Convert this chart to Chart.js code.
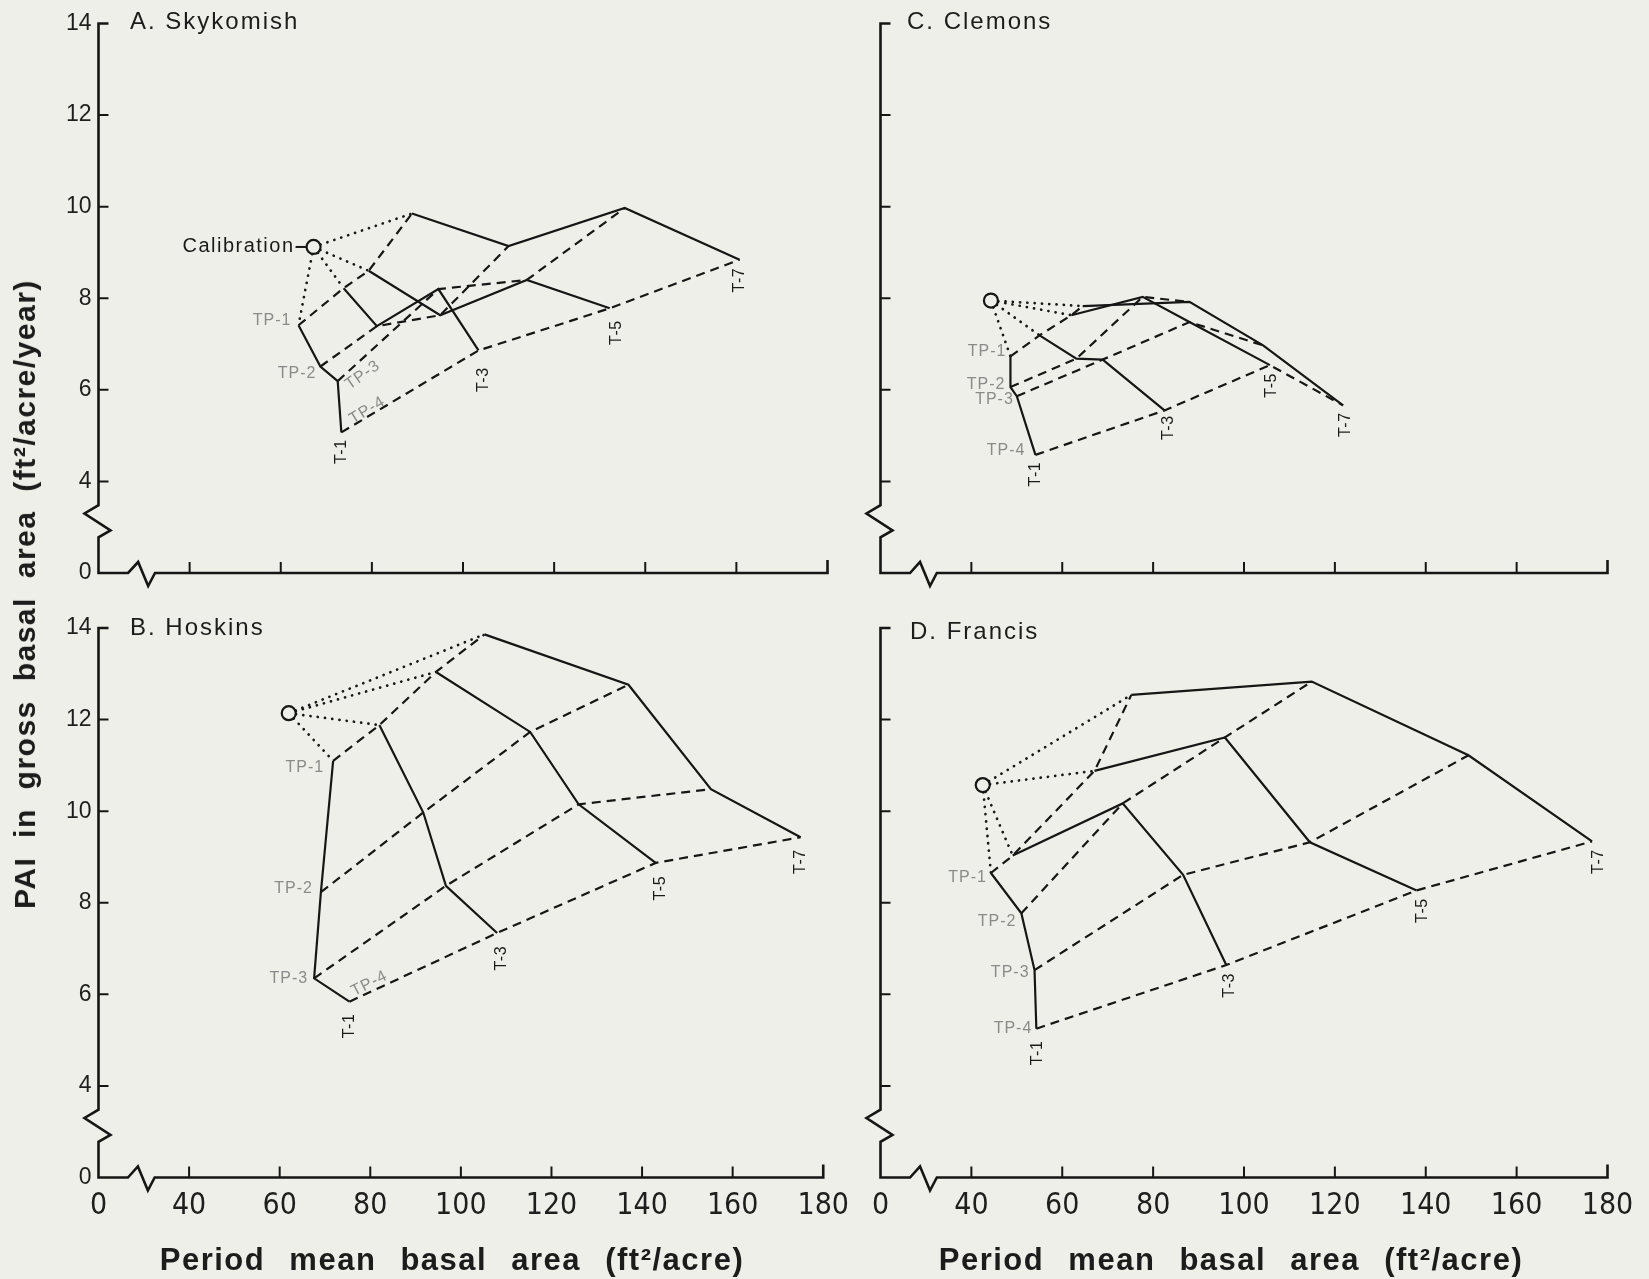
<!DOCTYPE html>
<html>
<head>
<meta charset="utf-8">
<title>PAI in gross basal area vs period mean basal area</title>
<script src="https://cdn.jsdelivr.net/npm/chart.js@4.4.1/dist/chart.umd.min.js"></script>
<style>
  html, body { margin: 0; padding: 0; background: #efefe9; }
  #page { position: relative; width: 1649px; height: 1279px; overflow: hidden; background: #efefe9; }
  #page canvas { position: absolute; }
  .txt { position: absolute; white-space: nowrap; color: #1c1c1c; font-family: "Liberation Sans", Arial, Helvetica, sans-serif; line-height: 1; }
  .ptitle { font-size: 24px; letter-spacing: 2px; }
  .axtitle { font-size: 31px; font-weight: bold; letter-spacing: 1.5px; word-spacing: 14px; }
</style>
</head>
<body>
<div id="page">
  <canvas id="panelA"></canvas>
  <canvas id="panelC"></canvas>
  <canvas id="panelB"></canvas>
  <canvas id="panelD"></canvas>

  <div class="txt ptitle" style="left:130px; top:9px;">A. Skykomish</div>
  <div class="txt ptitle" style="left:907px; top:9px;">C. Clemons</div>
  <div class="txt ptitle" style="left:130px; top:615px;">B. Hoskins</div>
  <div class="txt ptitle" style="left:910px; top:619px;">D. Francis</div>

  <div class="txt axtitle" style="left:452px; top:1244px; transform:translateX(-50%);">Period mean basal area (ft²/acre)</div>
  <div class="txt axtitle" style="left:1231px; top:1244px; transform:translateX(-50%);">Period mean basal area (ft²/acre)</div>
  <div class="txt axtitle" style="left:25px; top:594px; font-size:30px; letter-spacing:1.5px; word-spacing:9px; transform:translate(-50%,-50%) rotate(-90deg);">PAI in gross basal area (ft²/acre/year)</div>
</div>

<script>
// Treatments (columns) and treatment periods (rows)
const treatments = ['T-1', 'T-3', 'T-5', 'T-7'];
const periods = ['TP-1', 'TP-2', 'TP-3', 'TP-4'];

// Axis ticks; the first tick of each axis stands for the broken origin (0)
const xTickValues = [20, 40, 60, 80, 100, 120, 140, 160, 180];
const yTickValues = [2, 4, 6, 8, 10, 12, 14];

// A. Skykomish — period mean basal area (ft2/acre), rows TP-1..TP-4, cols T-1..T-7
const skykomishBasal = [
  [63.9, 73.8, 79.3, 88.8],
  [68.7, 81.1, 95.0, 110.0],
  [72.5, 94.6, 114.0, 135.5],
  [73.3, 103.4, 132.2, 160.7]
];
// A. Skykomish — PAI in gross basal area (ft2/acre/year)
const skykomishPai = [
  [7.41, 8.22, 8.60, 9.85],
  [6.51, 7.39, 7.63, 9.14],
  [6.19, 8.20, 8.40, 9.97],
  [5.07, 6.86, 7.78, 8.84]
];
const skykomishCalibration = [67.2, 9.12];

// B. Hoskins
const hoskinsBasal = [
  [71.8, 82.0, 94.5, 105.2],
  [69.1, 91.7, 115.3, 137.0],
  [67.6, 96.7, 126.0, 155.2],
  [75.4, 108.0, 143.0, 175.0]
];
const hoskinsPai = [
  [11.10, 11.88, 13.04, 13.86],
  [8.23, 9.97, 11.73, 12.76],
  [6.35, 8.37, 10.15, 10.48],
  [5.84, 7.34, 8.87, 9.43]
];
const hoskinsCalibration = [62.0, 12.14];

// C. Clemons
const clemonsBasal = [
  [48.6, 55.0, 62.0, 64.5],
  [48.6, 63.1, 77.7, 88.0],
  [50.0, 68.9, 88.0, 104.2],
  [54.1, 82.5, 105.7, 121.8]
];
const clemonsPai = [
  [6.73, 7.19, 7.63, 7.83],
  [6.06, 6.68, 8.03, 7.92],
  [5.86, 6.66, 7.48, 6.97],
  [4.58, 5.55, 6.54, 5.66]
];
const clemonsCalibration = [44.3, 7.95];

// D. Francis
const francisBasal = [
  [44.3, 49.1, 67.1, 75.2],
  [51.0, 73.3, 95.8, 114.9],
  [53.9, 86.6, 114.5, 149.4],
  [54.3, 96.1, 138.0, 176.6]
];
const francisPai = [
  [8.65, 9.03, 10.88, 12.54],
  [7.77, 10.17, 11.61, 12.83],
  [6.53, 8.61, 9.32, 11.22],
  [5.25, 6.64, 8.27, 9.34]
];
const francisCalibration = [42.5, 10.57];

// ---------------------------------------------------------------------------
const INK = '#161616';
const PAPER = '#efefe9';
const SANS = '"Liberation Sans", Arial, Helvetica, sans-serif';
const NARROW = '"Liberation Sans Narrow", "DejaVu Sans Condensed", "Liberation Sans", Arial, sans-serif';

// Broken axes: y axis with a zigzag between 0 and 4, x axis with a zigzag between 0 and 40,
// tick marks pointing into the plot.
const brokenAxes = {
  id: 'brokenAxes',
  afterDraw(chart) {
    const { ctx, scales: { x, y } } = chart;
    const x0 = x.getPixelForValue(20);
    const y0 = y.getPixelForValue(2);
    const yTop = y.getPixelForValue(14);
    const xEnd = x.getPixelForValue(180);
    ctx.save();
    ctx.strokeStyle = INK;
    ctx.lineWidth = 2.6;
    ctx.lineJoin = 'miter';
    ctx.lineCap = 'butt';
    ctx.beginPath();
    ctx.moveTo(x0 + 10, yTop);
    ctx.lineTo(x0, yTop);
    ctx.lineTo(x0, y.getPixelForValue(3.48));
    ctx.lineTo(x0 - 14, y.getPixelForValue(3.30));
    ctx.lineTo(x0 + 12, y.getPixelForValue(2.93));
    ctx.lineTo(x0, y.getPixelForValue(2.78));
    ctx.lineTo(x0, y0);
    ctx.lineTo(x.getPixelForValue(26.5), y0);
    ctx.lineTo(x.getPixelForValue(28.7), y0 - 11);
    ctx.lineTo(x.getPixelForValue(30.9), y0 + 13);
    ctx.lineTo(x.getPixelForValue(32.4), y0);
    ctx.lineTo(xEnd, y0);
    ctx.lineTo(xEnd, y0 - 13);
    ctx.stroke();
    ctx.lineWidth = 2;
    ctx.beginPath();
    yTickValues.slice(1, -1).forEach(v => {
      const p = y.getPixelForValue(v);
      ctx.moveTo(x0, p); ctx.lineTo(x0 + 10, p);
    });
    xTickValues.slice(1, -1).forEach(v => {
      const p = x.getPixelForValue(v);
      ctx.moveTo(p, y0); ctx.lineTo(p, y0 - 11);
    });
    ctx.stroke();
    ctx.restore();
  }
};

// Period labels (TP-n) beside the T-1 line, treatment labels (T-n) under the last period,
// and the calibration caption.
function labelPlugin(cfg, basal, pai, calib) {
  return {
    id: 'treatmentLabels',
    afterDatasetsDraw(chart) {
      const { ctx, scales: { x, y } } = chart;
      const px = (i, j) => x.getPixelForValue(basal[i][j]);
      const py = (i, j) => y.getPixelForValue(pai[i][j]);
      ctx.save();
      ctx.textBaseline = 'middle';
      periods.forEach((name, i) => {
        const o = cfg.periodOffsets[i];
        ctx.save();
        ctx.translate(px(i, 0) + o[0], py(i, 0) + o[1]);
        ctx.font = '16px ' + SANS;
        ctx.letterSpacing = '1px';
        ctx.fillStyle = '#8a8a8a';
        if (o[2]) {
          ctx.rotate(o[2] * Math.PI / 180);
          ctx.textAlign = 'center';
        } else {
          ctx.textAlign = 'right';
        }
        ctx.fillText(name, 0, 0);
        ctx.restore();
      });
      treatments.forEach((name, j) => {
        const o = cfg.treatmentOffsets[j];
        ctx.save();
        ctx.translate(px(3, j) + o[0], py(3, j) + o[1]);
        ctx.rotate(-Math.PI / 2);
        ctx.font = '16px ' + SANS;
        ctx.letterSpacing = '0.5px';
        ctx.fillStyle = '#1a1a1a';
        ctx.textAlign = 'right';
        ctx.fillText(name, 0, 0);
        ctx.restore();
      });
      if (cfg.calibrationText) {
        const cx = x.getPixelForValue(calib[0]);
        const cy = y.getPixelForValue(calib[1]);
        ctx.font = '20px ' + SANS;
        ctx.letterSpacing = '1.5px';
        ctx.fillStyle = '#1a1a1a';
        ctx.textAlign = 'right';
        ctx.fillText(cfg.calibrationText, cx - 19, cy);
        ctx.strokeStyle = INK;
        ctx.lineWidth = 2;
        ctx.beginPath();
        ctx.moveTo(cx - 18, cy);
        ctx.lineTo(cx - 7, cy);
        ctx.stroke();
      }
      ctx.restore();
    }
  };
}

function pts(list) { return list.map(p => ({ x: p[0], y: p[1] })); }

function buildDatasets(basal, pai, calib) {
  const sets = [];
  // calibration point (first so it is painted on top)
  sets.push({
    label: 'Calibration',
    data: pts([calib]),
    showLine: false,
    pointRadius: 7,
    pointBorderWidth: 2.2,
    pointBorderColor: INK,
    pointBackgroundColor: PAPER
  });
  // solid: each treatment through its periods
  treatments.forEach((t, j) => {
    sets.push({
      label: t,
      data: pts(periods.map((p, i) => [basal[i][j], pai[i][j]])),
      showLine: true,
      borderColor: INK,
      borderWidth: 2.2,
      pointRadius: 0
    });
  });
  // dashed: each period across treatments
  periods.forEach((p, i) => {
    sets.push({
      label: p,
      data: pts(treatments.map((t, j) => [basal[i][j], pai[i][j]])),
      showLine: true,
      borderColor: INK,
      borderWidth: 2.2,
      borderDash: [9, 6],
      pointRadius: 0
    });
  });
  // dotted: calibration to the first period of each treatment
  treatments.forEach((t, j) => {
    sets.push({
      label: 'Calibration to ' + t,
      data: pts([calib, [basal[0][j], pai[0][j]]]),
      showLine: true,
      borderColor: INK,
      borderWidth: 2.7,
      borderDash: [0.1, 7.2],
      borderCapStyle: 'round',
      pointRadius: 0
    });
  });
  return sets;
}

function buildPanel(id, box, area, basal, pai, calib, cfg) {
  const canvas = document.getElementById(id);
  canvas.width = box.w;
  canvas.height = box.h;
  canvas.style.left = box.x + 'px';
  canvas.style.top = box.y + 'px';
  canvas.style.width = box.w + 'px';
  canvas.style.height = box.h + 'px';
  return new Chart(canvas, {
    type: 'scatter',
    data: { datasets: buildDatasets(basal, pai, calib) },
    options: {
      responsive: false,
      animation: false,
      events: [],
      layout: { padding: { left: 0, top: area.t - box.y, right: box.x + box.w - area.r, bottom: 0 } },
      scales: {
        x: {
          type: 'linear', position: 'bottom', min: 20, max: 180,
          afterBuildTicks: s => { s.ticks = xTickValues.map(v => ({ value: v })); },
          afterFit: s => { s.height = box.y + box.h - area.b; },
          grid: { display: false, drawTicks: false },
          border: { display: false },
          ticks: {
            display: cfg.xLabels, autoSkip: false, maxRotation: 0, padding: 11,
            color: '#1e1e1e', font: { family: NARROW, size: 30 },
            callback: v => (v === 20 ? '0' : String(v))
          }
        },
        y: {
          type: 'linear', position: 'left', min: 2, max: 14,
          afterBuildTicks: s => { s.ticks = yTickValues.map(v => ({ value: v })); },
          afterFit: s => { s.width = area.l - box.x; },
          grid: { display: false, drawTicks: false },
          border: { display: false },
          ticks: {
            display: cfg.yLabels, autoSkip: false, padding: 7,
            color: '#1e1e1e', font: { family: SANS, size: 23 },
            callback: v => (v === 2 ? '0' : String(v))
          }
        }
      },
      plugins: { legend: { display: false }, tooltip: { enabled: false } }
    },
    plugins: [brokenAxes, labelPlugin(cfg, basal, pai, calib)]
  });
}

buildPanel('panelA',
  { x: 0, y: 0, w: 860, h: 600 },
  { l: 98.5, r: 827.5, t: 23.5, b: 573 },
  skykomishBasal, skykomishPai, skykomishCalibration,
  {
    xLabels: false, yLabels: true,
    periodOffsets: [[-7, -5], [-4, 7], [25, -6, -35], [26, -22, -31]],
    treatmentOffsets: [[0, 7], [5, 17], [7, 12], [0, 8]],
    calibrationText: 'Calibration'
  });

buildPanel('panelC',
  { x: 830, y: 0, w: 819, h: 600 },
  { l: 880.5, r: 1607.5, t: 23.5, b: 573 },
  clemonsBasal, clemonsPai, clemonsCalibration,
  {
    xLabels: false, yLabels: false,
    periodOffsets: [[-4, -5], [-5, -2], [-3, 3], [-10, -4]],
    treatmentOffsets: [[0, 7], [4, 5], [2, 8], [3, 7]]
  });

buildPanel('panelB',
  { x: 0, y: 600, w: 860, h: 679 },
  { l: 98.5, r: 827.5, t: 628, b: 1177.5 },
  hoskinsBasal, hoskinsPai, hoskinsCalibration,
  {
    xLabels: true, yLabels: true,
    periodOffsets: [[-9, 7], [-8, -4], [-6, 0], [20, -18, -27]],
    treatmentOffsets: [[0, 12], [4, 13], [5, 13], [0, 12]]
  });

buildPanel('panelD',
  { x: 830, y: 600, w: 819, h: 679 },
  { l: 880.5, r: 1607.5, t: 628, b: 1177.5 },
  francisBasal, francisPai, francisCalibration,
  {
    xLabels: true, yLabels: false,
    periodOffsets: [[-4, 5], [-5, 8], [-5, 3], [-4, 0]],
    treatmentOffsets: [[1, 12], [3, 8], [6, 8], [7, 8]]
  });
</script>
</body>
</html>
